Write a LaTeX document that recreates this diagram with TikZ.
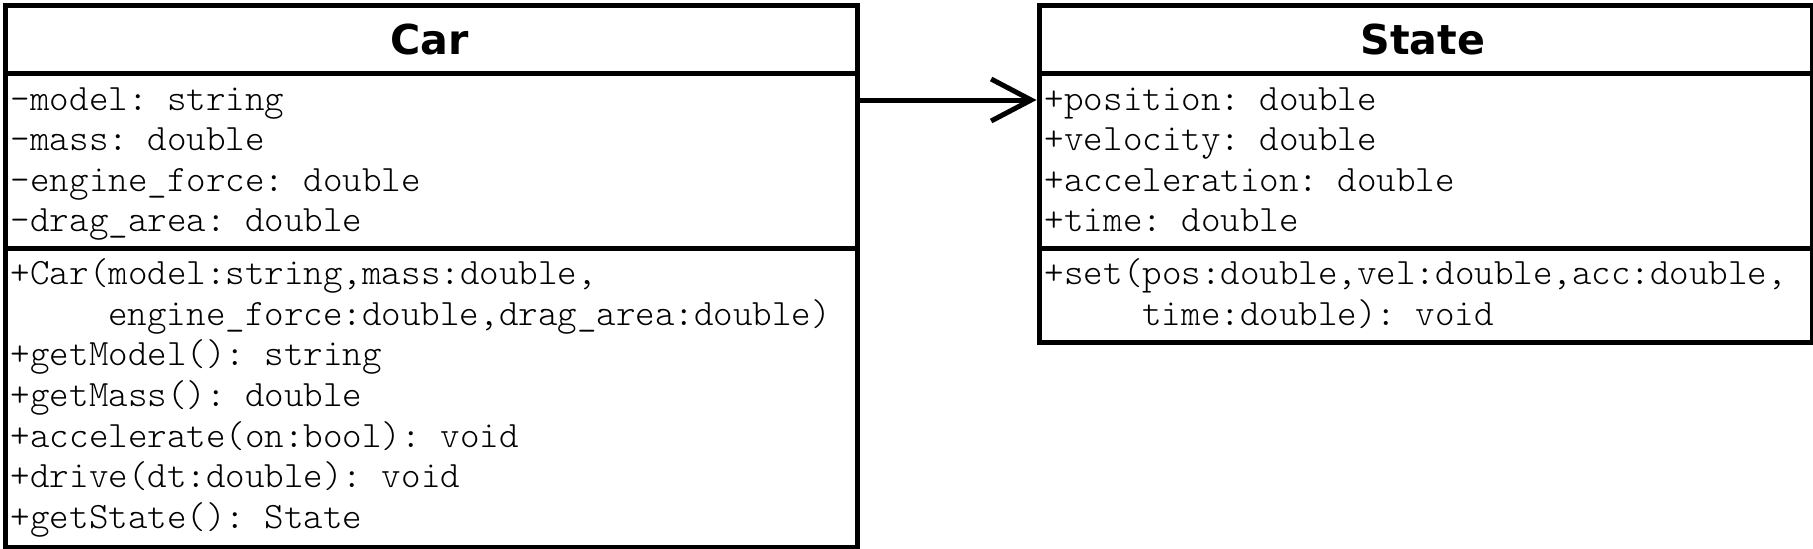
\documentclass[tikz,border=0pt]{standalone}
\usepackage{fontspec}
\usetikzlibrary{arrows.meta}
\newfontfamily\codefont{lmmonolt10-regular.otf}
\newfontfamily\titlefont{DejaVu Sans}
\tikzset{
  box/.style={draw, line width=2.5pt, rectangle, anchor=north west, inner sep=0pt},
  divider/.style={line width=2.5pt},
  code/.style={font=\codefont\fontsize{18.6pt}{20pt}\selectfont\frenchspacing, inner sep=0pt, anchor=base west},
  title/.style={font=\titlefont\bfseries\fontsize{20.6pt}{24pt}\selectfont, inner sep=0pt, anchor=base},
  assoc/.style={line width=2.5pt, -{Straight Barb[length=20pt, width=21pt, line width=2.5pt]}}
}
\begin{document}
\begin{tikzpicture}[x=0.5pt, y=-0.5pt]
\useasboundingbox (0,0) rectangle (1813,548);
% boxes
\node[box, minimum width=426.25pt, minimum height=271pt] (car) at (2.5,2.5) {};
\node[box, minimum width=386.5pt, minimum height=168.5pt] (state) at (1036.5,2.5) {};
\coordinate (hd) at (0,73.5);
\coordinate (ad) at (0,248.5);
\coordinate (arrowy) at (0,100);
\draw[divider] (car.west |- hd) -- (car.east |- hd);
\draw[divider] (car.west |- ad) -- (car.east |- ad);
\draw[divider] (state.west |- hd) -- (state.east |- hd);
\draw[divider] (state.west |- ad) -- (state.east |- ad);
% titles
\node[title] (cartitle) at (429.5,54) {Car};
\node[title] (statetitle) at (1423,54) {State};
% Car attributes
\node[code] (ca1) at (10.5,110) {-model: string};
\node[code] (ca2) at (10.5,150.6) {-mass: double};
\node[code] (ca3) at (10.5,191.2) {-engine\_force: double};
\node[code] (ca4) at (10.5,231.8) {-drag\_area: double};
% Car methods
\node[code] (cm1) at (10.5,284.7) {+Car(model:string,mass:double,};
\node[code] (cm2) at (108,325.3) {engine\_force:double,drag\_area:double)};
\node[code] (cm3) at (10.5,365.9) {+getModel(): string};
\node[code] (cm4) at (10.5,406.5) {+getMass(): double};
\node[code] (cm5) at (10.5,447.1) {+accelerate(on:bool): void};
\node[code] (cm6) at (10.5,487.7) {+drive(dt:double): void};
\node[code] (cm7) at (10.5,528.3) {+getState(): State};
% State attributes
\node[code] (sa1) at (1044.5,110) {+position: double};
\node[code] (sa2) at (1044.5,150.6) {+velocity: double};
\node[code] (sa3) at (1044.5,191.2) {+acceleration: double};
\node[code] (sa4) at (1044.5,231.8) {+time: double};
% State methods
\node[code] (sm1) at (1044.5,284.7) {+set(pos:double,vel:double,acc:double,};
\node[code] (sm2) at (1142,325.3) {time:double): void};
% association
\draw[assoc] (car.east |- arrowy) -- (state.west |- arrowy);
\end{tikzpicture}
\end{document}
